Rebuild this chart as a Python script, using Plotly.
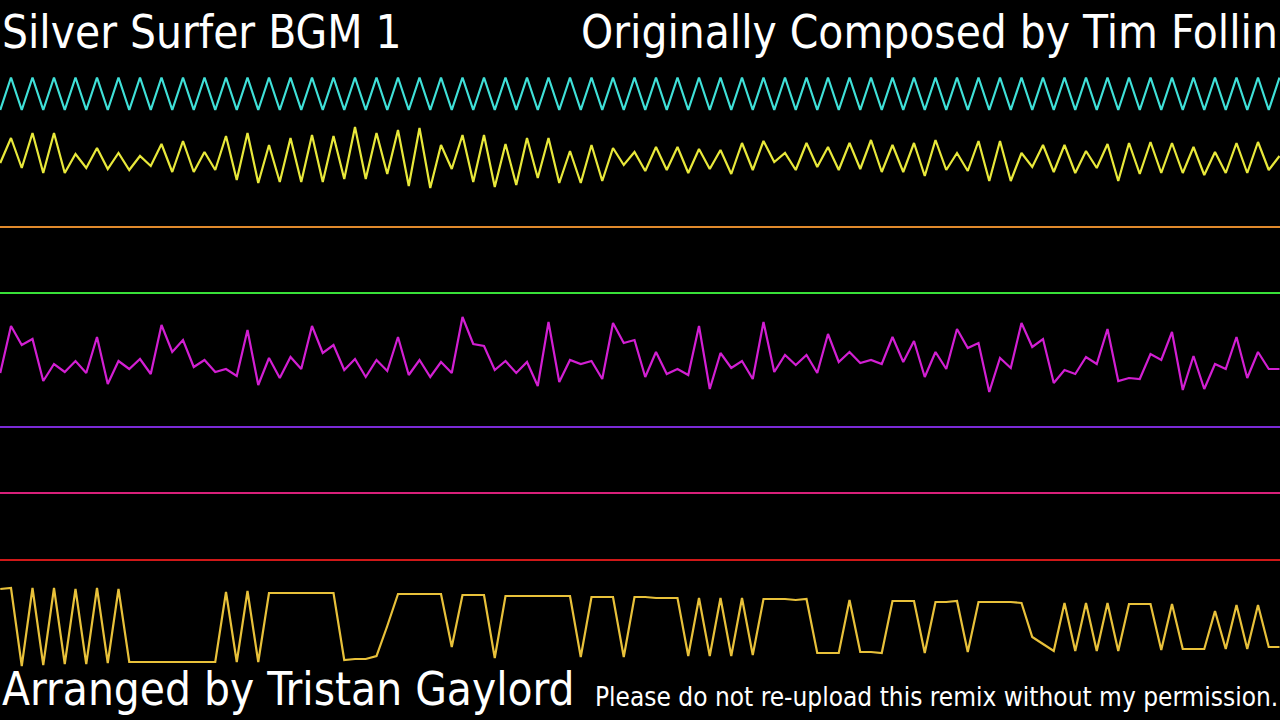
import plotly.graph_objects as go

# Oscilloscope view: 120 samples per channel, values = vertical screen position (px from top)
SAMPLES = list(range(120))

pulse1 = [110, 77.5, 110, 77.5, 110, 77.5, 110, 77.5, 110, 77.5, 110, 77.5, 110, 77.5, 110, 77.5,
          110, 77.5, 110, 77.5, 110, 77.5, 110, 77.5, 110, 77.5, 110, 77.5, 110, 77.5, 110, 77.5,
          110, 77.5, 110, 77.5, 110, 77.5, 110, 77.5, 110, 77.5, 110, 77.5, 110, 77.5, 110, 77.5,
          110, 77.5, 110, 77.5, 110, 77.5, 110, 77.5, 110, 77.5, 110, 77.5, 110, 77.5, 110, 77.5,
          110, 77.5, 110, 77.5, 110, 77.5, 110, 77.5, 110, 77.5, 110, 77.5, 110, 77.5, 110, 77.5,
          110, 77.5, 110, 77.5, 110, 77.5, 110, 77.5, 110, 77.5, 110, 77.5, 110, 77.5, 110, 77.5,
          110, 77.5, 110, 77.5, 110, 77.5, 110, 77.5, 110, 77.5, 110, 77.5, 110, 77.5, 110, 77.5,
          110, 77.5, 110, 77.5, 110, 77.5, 110, 77.5]

pulse2 = [163, 138, 168, 133, 173, 133, 173, 154, 168, 148, 169, 153, 170, 156, 166, 144,
          172, 141, 172, 152, 170, 136, 180, 133, 183, 145, 182, 138, 182, 135,
          182, 136, 179, 127, 179, 133, 174, 130, 186, 128, 188, 145, 169, 135, 182, 135,
          187, 144, 185, 138, 178, 138, 183, 151, 183, 145, 181, 148, 165, 152,
          171, 147, 170, 147, 173, 149, 169, 150, 174, 143, 170, 141, 162, 153, 170, 143,
          167, 147, 170, 143, 169, 140, 172, 145, 172, 143, 176, 140, 170, 153,
          171, 141, 181, 141, 181, 153, 167, 145, 172, 145, 173, 151, 168, 144, 181, 143,
          174, 142, 173, 143, 173, 147, 175, 152, 173, 143, 173, 142, 170, 156]

noise_wave = [373, 326, 345, 339, 381, 364, 372, 361, 373, 337, 384, 361, 369, 359, 374, 325,
              352, 340, 367, 360, 372, 369, 376, 330, 385, 358, 378, 357, 369, 326,
              353, 345, 370, 359, 377, 360, 371, 337, 375, 360, 377, 362, 373, 317, 344, 346,
              370, 361, 373, 362, 386, 322, 382, 360, 364, 361, 379, 323, 343, 340,
              377, 352, 374, 369, 375, 326, 389, 353, 368, 361, 379, 322, 372, 355, 365, 355,
              373, 334, 362, 352, 363, 360, 364, 337, 362, 341, 377, 352, 369, 329,
              348, 343, 392, 358, 368, 323, 347, 339, 383, 370, 374, 357, 364, 329, 381, 378,
              379, 354, 360, 332, 390, 356, 389, 364, 369, 337, 378, 352, 369, 369]

dpcm = [589, 588, 666, 588, 665, 588, 664, 589, 664, 588, 663, 589, 662, 662, 662, 662,
        662, 662, 662, 662, 662, 592, 662, 591, 662, 593, 593, 593, 593, 593,
        593, 593, 660, 659, 659, 656, 626, 594, 594, 594, 594, 594, 647, 595, 595, 595,
        658, 596, 596, 596, 596, 596, 596, 596, 657, 597, 597, 597, 657, 597,
        597, 598, 598, 598, 656, 598, 656, 598, 656, 598, 655, 599, 599, 599, 600, 599,
        653, 653, 653, 600, 652, 652, 653, 601, 601, 601, 653, 602, 602, 601,
        652, 602, 602, 602, 602, 603, 637, 644, 651, 603, 651, 603, 651, 603, 651, 604,
        604, 604, 650, 604, 649, 649, 649, 611, 649, 605, 649, 605, 647, 647]

flat_channels = {
    "orange": 227,
    "green": 293,
    "purple": 427,
    "pink": 493,
    "red": 560,
}

wave_colors = {
    "cyan": "#3fe0d8",
    "yellow": "#e8e83a",
    "magenta": "#d21fd2",
    "gold": "#e8c13a",
}
flat_colors = {
    "orange": "#e08a2c",
    "green": "#38e038",
    "purple": "#7a2ad6",
    "pink": "#d8207a",
    "red": "#d01818",
}

fig = go.Figure()
for name, vals in [("cyan", pulse1), ("yellow", pulse2), ("magenta", noise_wave), ("gold", dpcm)]:
    fig.add_trace(go.Scatter(x=SAMPLES, y=vals, mode="lines",
                             line=dict(color=wave_colors[name], width=2.2),
                             hoverinfo="skip", showlegend=False))
for name, yv in flat_channels.items():
    fig.add_trace(go.Scatter(x=[-1, 121], y=[yv, yv], mode="lines",
                             line=dict(color=flat_colors[name], width=2),
                             hoverinfo="skip", showlegend=False))

step = 10.75
fig.update_xaxes(range=[-0.25 / step, (1280 - 0.25) / step], visible=False, fixedrange=True)
fig.update_yaxes(range=[720, 0], visible=False, fixedrange=True)

font = "DejaVu Sans Condensed, Noto Sans, sans-serif"
fig.add_annotation(text="Silver Surfer BGM 1", x=0, y=1 - 61 / 720, xref="paper", yref="paper",
                   xanchor="left", yanchor="bottom", showarrow=False,
                   font=dict(family=font, size=45.5, color="white"))
fig.add_annotation(text="Originally Composed by Tim Follin", x=1, y=1 - 61 / 720, xref="paper", yref="paper",
                   xanchor="right", yanchor="bottom", showarrow=False,
                   font=dict(family=font, size=45.5, color="white"))
fig.add_annotation(text="Arranged by Tristan Gaylord", x=0, y=1 - 718 / 720, xref="paper", yref="paper",
                   xanchor="left", yanchor="bottom", showarrow=False,
                   font=dict(family=font, size=45.5, color="white"))
fig.add_annotation(text="Please do not re-upload this remix without my permission.", x=1, y=1 - 714 / 720,
                   xref="paper", yref="paper", xanchor="right", yanchor="bottom", showarrow=False,
                   font=dict(family=font, size=26, color="white"))

fig.update_layout(width=1280, height=720, margin=dict(l=0, r=0, t=0, b=0),
                  paper_bgcolor="black", plot_bgcolor="black")
fig.write_html("out.html", config={"displayModeBar": False},
               post_script="document.body.style.margin='0';document.body.style.overflow='hidden';document.body.style.background='black';")
